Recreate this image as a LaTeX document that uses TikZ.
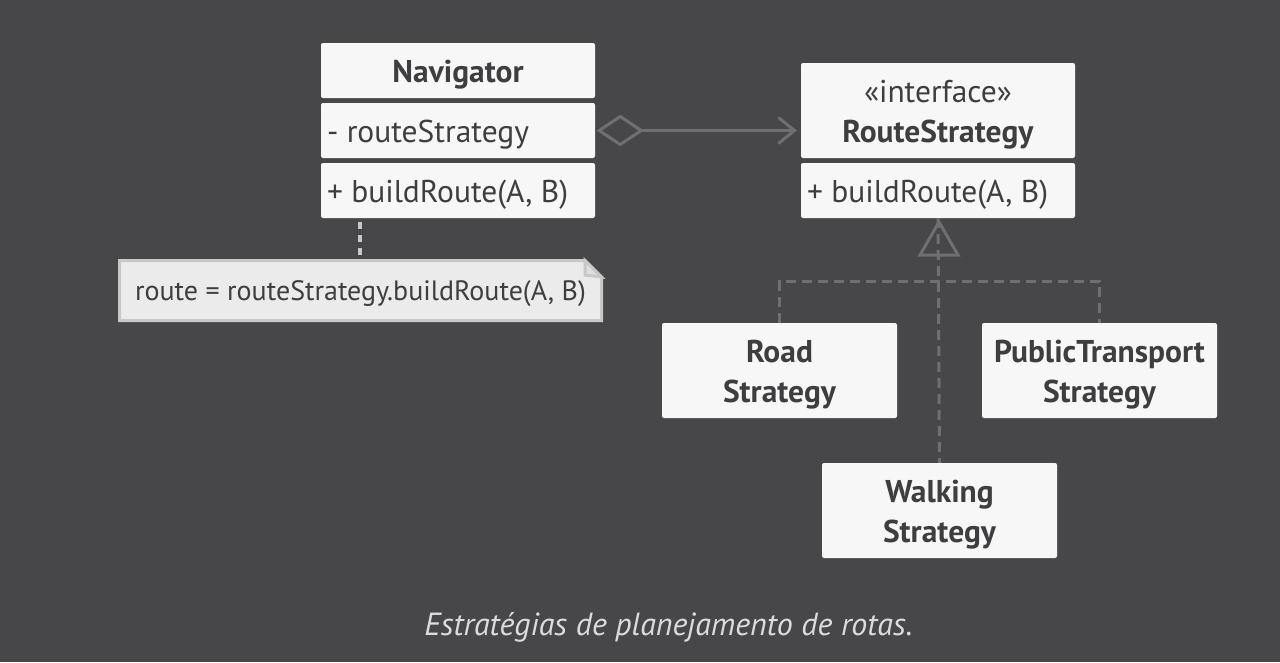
\documentclass[tikz,border=0pt]{standalone}
\usepackage{fontspec}
\setmainfont{PT Sans}
\usetikzlibrary{arrows.meta}
\definecolor{bg}{HTML}{47474A}
\definecolor{boxfill}{HTML}{F7F7F7}
\definecolor{txt}{HTML}{3E3E40}
\definecolor{conn}{HTML}{6F6F71}
\definecolor{notefill}{HTML}{EBEBEB}
\definecolor{noteline}{HTML}{C8C8C8}
\definecolor{capt}{HTML}{DCDCDC}
\tikzset{
  umlbox/.style={draw=none, fill=boxfill, rounded corners=2pt, inner sep=0pt},
  navbox/.style={umlbox, minimum width=274pt, minimum height=55pt},
  implbox/.style={umlbox, minimum width=235pt, minimum height=95pt},
  boxtext/.style={inner sep=0pt, text=txt, font=\fontsize{31.5}{40}\selectfont, align=center},
  boldtext/.style={boxtext, font=\fontsize{31.5}{40}\selectfont\bfseries},
  lefttext/.style={boxtext, anchor=west, align=left},
  connline/.style={draw=conn, line width=3pt},
  dconn/.style={connline, dash pattern=on 10pt off 6pt},
}
\begin{document}
\begin{tikzpicture}[x=1pt,y=-1pt]
\fill[bg] (0,0) rectangle (1280,662);
\useasboundingbox (0,0) rectangle (1280,662);

% Navigator
\node[navbox] (nav1) at (458,70.5) {};
\node[navbox] (nav2) at (458,130.5) {};
\node[navbox] (nav3) at (458,190.5) {};
\node[boldtext] (nav1t) at ([yshift=-4pt]nav1.center) {Navigator};
\node[lefttext] (nav2t) at ([xshift=6pt,yshift=-4pt]nav2.west) {- routeStrategy};
\node[lefttext] (nav3t) at ([xshift=6pt,yshift=-4pt]nav3.west) {+ buildRoute(A, B)};

% RouteStrategy
\node[navbox, minimum height=95pt] (rs1) at (938,110.5) {};
\node[navbox] (rs2) at (938,190.5) {};
\node[boxtext] (rs1t) at ([yshift=-4pt]rs1.center) {«interface»\\\textbf{RouteStrategy}};
\node[lefttext] (rs2t) at ([xshift=6pt,yshift=-4pt]rs2.west) {+ buildRoute(A, B)};

% implementations
\node[implbox] (road) at (779.5,370.5) {};
\node[implbox] (pt) at (1099.5,370.5) {};
\node[implbox] (walk) at (939.5,510.5) {};
\node[boldtext] (roadt) at ([yshift=-4pt]road.center) {Road\\Strategy};
\node[boldtext] (ptt) at ([yshift=-4pt]pt.center) {PublicTransport\\Strategy};
\node[boldtext] (walkt) at ([yshift=-4pt]walk.center) {Walking\\Strategy};

% note
\filldraw[fill=notefill, draw=noteline, line width=3pt, line join=miter]
  (119.5,260.5) -- (585,260.5) -- (601.5,277) -- (601.5,320.5) -- (119.5,320.5) -- cycle;
\filldraw[fill=noteline!60!white, draw=noteline, line width=3pt, line join=miter]
  (585,260.5) -- (585,275) -- (601.5,277) -- cycle;
\node[text=txt, font=\fontsize{28}{32}\selectfont] (note) at (360.5,294)
  {route = routeStrategy.buildRoute(A, B)};
\coordinate (notetop) at (360,259);
\draw[draw=noteline, line width=4pt, dash pattern=on 7pt off 6pt] (nav3.south -| notetop) ++(0,4) -- (notetop);

% aggregation
\draw[connline, -{Straight Barb[length=16pt,width=26pt,line width=3pt]}, shorten >=4pt]
  ([xshift=46pt]nav2.east) -- (nav2.east -| rs1.west);
\draw[connline, fill=bg, line join=miter]
  ([xshift=4pt]nav2.east) -- ++(21,-14) -- ++(21,14) -- ++(-21,14) -- cycle;

% realization
\draw[dconn] (rs2.south) -- (walk.north);
\coordinate (bus) at (0,281);
\draw[dconn] (road.north) |- (bus -| pt.north) -- (pt.north);
\coordinate (apex) at (939,222);
\draw[connline, line join=miter] (apex) -- ++(-19,33) -- ++(38,0) -- cycle;

% caption
\node[text=capt, font=\fontsize{32}{36}\selectfont\itshape] (cap) at (668.5,627)
  {Estratégias de planejamento de rotas.};
\end{tikzpicture}
\end{document}
